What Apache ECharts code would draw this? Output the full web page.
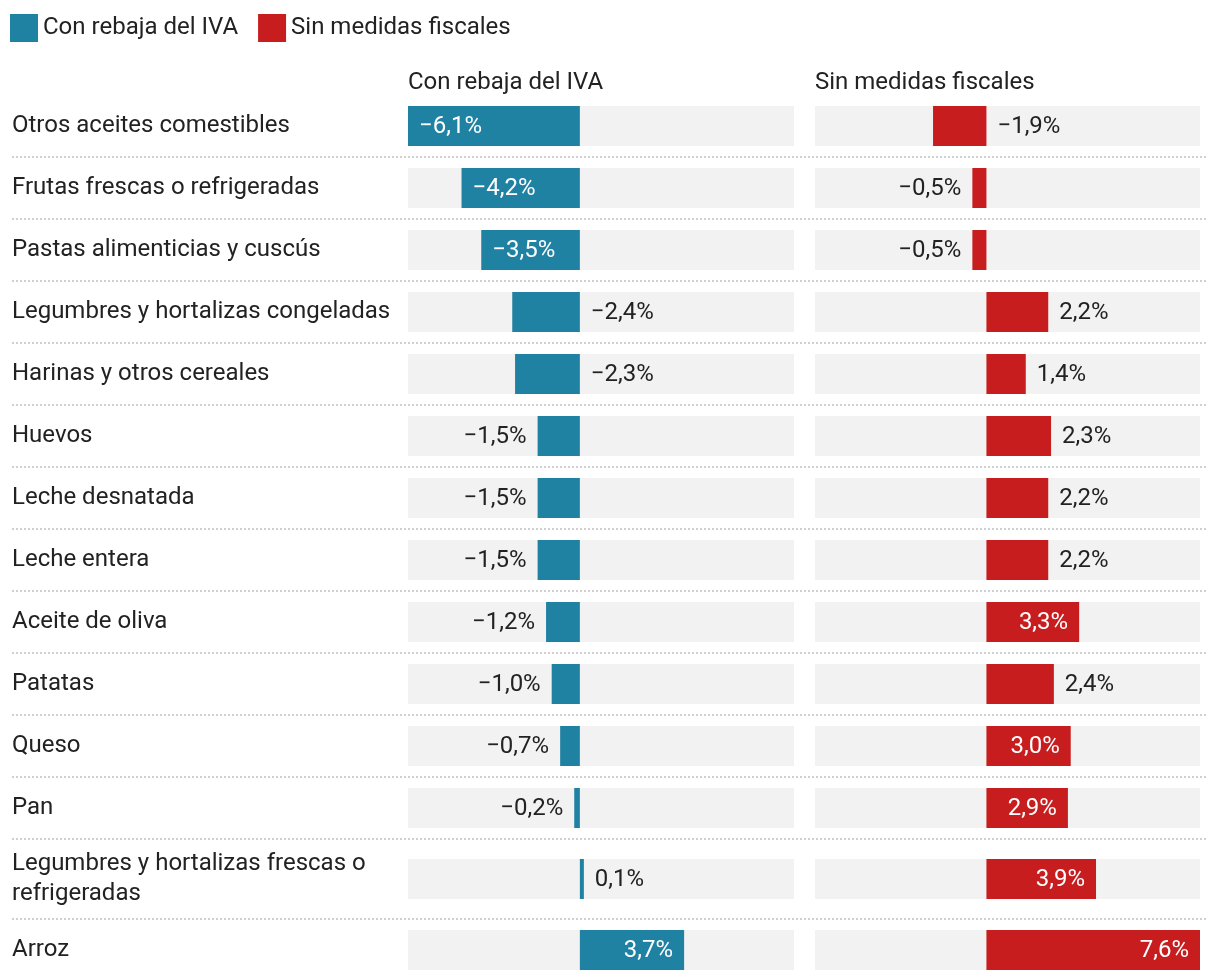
<!DOCTYPE html>
<html>
<head>
<meta charset="utf-8">
<script src="https://cdn.jsdelivr.net/npm/echarts@6/dist/echarts.min.js"></script>
<style>
html,body{margin:0;padding:0;background:#fff;}
#chart{width:1220px;height:980px;}
</style>
</head>
<body>
<div id="chart"></div>
<script>
const categories = [
  'Otros aceites comestibles',
  'Frutas frescas o refrigeradas',
  'Pastas alimenticias y cuscús',
  'Legumbres y hortalizas congeladas',
  'Harinas y otros cereales',
  'Huevos',
  'Leche desnatada',
  'Leche entera',
  'Aceite de oliva',
  'Patatas',
  'Queso',
  'Pan',
  'Legumbres y hortalizas frescas o refrigeradas',
  'Arroz'
];
const seriesNames = ['Con rebaja del IVA', 'Sin medidas fiscales'];
const conRebaja = [-6.1, -4.2, -3.5, -2.4, -2.3, -1.5, -1.5, -1.5, -1.2, -1.0, -0.7, -0.2, 0.1, 3.7];
const sinMedidas = [-1.9, -0.5, -0.5, 2.2, 1.4, 2.3, 2.2, 2.2, 3.3, 2.4, 3.0, 2.9, 3.9, 7.6];
const axisMin = -6.1;
const axisMax = 7.6;

const FONT = 'Roboto, "Noto Sans", sans-serif';
const FS = 24;
const TEXT = '#222222';
const COLORS = ['#1f82a3', '#c81d1e'];
const BG = '#f2f2f2';

const LABEL_LEFT = 12;
const LABEL_WIDTH = 390;
const PANELS = [{left: 408, width: 386}, {left: 815, width: 385}];
const FIRST_TOP = 95;
const BASE_ROW_H = 62;
const EXTRA_LINE_H = 18;
const BAR_H = 40;

// count wrapped lines of the category labels
const measureCtx = document.createElement('canvas').getContext('2d');
measureCtx.font = FS + 'px ' + FONT;
function lineCount(text) {
  const words = text.split(' ');
  let lines = 1, cur = '';
  for (const w of words) {
    const trial = cur ? cur + ' ' + w : w;
    if (measureCtx.measureText(trial).width > LABEL_WIDTH && cur) { lines++; cur = w; }
    else cur = trial;
  }
  return lines;
}

function fmt(v) {
  const s = Math.abs(v).toFixed(1).replace('.', ',') + '%';
  return v < 0 ? '\u2212' + s : s;
}

function labelFor(v) {
  const a = Math.abs(v);
  let position, color = TEXT;
  if (a >= 2.5) { position = v < 0 ? 'insideLeft' : 'insideRight'; color = '#ffffff'; }
  else if (v < 0 && a >= 1.8) position = 'right';
  else if (v < 0) position = 'left';
  else position = 'right';
  return {
    show: true, position, distance: 11, color, offset: [0, 1],
    fontFamily: FONT, fontSize: FS,
    formatter: () => fmt(v)
  };
}

const grids = [], xAxes = [], yAxes = [], seriesList = [], graphics = [];
let rowTop = FIRST_TOP;
categories.forEach((cat, i) => {
  const rowH = BASE_ROW_H + EXTRA_LINE_H * (lineCount(cat) - 1);
  const gridTop = rowTop + (rowH - BAR_H) / 2;
  [conRebaja, sinMedidas].forEach((vals, p) => {
    const idx = grids.length;
    grids.push({left: PANELS[p].left, width: PANELS[p].width, top: gridTop, height: BAR_H, containLabel: false});
    xAxes.push({type: 'value', gridIndex: idx, min: axisMin, max: axisMax, show: false});
    yAxes.push({
      type: 'category', gridIndex: idx, data: [cat],
      axisLine: {show: false}, axisTick: {show: false}, splitLine: {show: false},
      axisLabel: p === 0 ? {
        show: true, align: 'left', margin: PANELS[0].left - LABEL_LEFT,
        width: LABEL_WIDTH, overflow: 'break', lineHeight: 30,
        padding: [5, 0, 0, 0],
        fontFamily: FONT, fontSize: FS, color: TEXT
      } : {show: false}
    });
    seriesList.push({
      name: seriesNames[p], type: 'bar', xAxisIndex: idx, yAxisIndex: idx,
      data: [vals[i]], barWidth: BAR_H, barMinHeight: 4,
      showBackground: true, backgroundStyle: {color: BG},
      itemStyle: {color: COLORS[p]},
      label: labelFor(vals[i]),
      silent: true, animation: false
    });
  });
  rowTop += rowH;
  if (i < categories.length - 1) {
    graphics.push({
      type: 'line', silent: true,
      shape: {x1: LABEL_LEFT, y1: rowTop, x2: 1208, y2: rowTop},
      style: {stroke: '#cfcfcf', lineWidth: 2, lineDash: [2, 2]}
    });
  }
});

const chart = echarts.init(document.getElementById('chart'), null, {renderer: 'canvas'});
chart.setOption({
  animation: false,
  backgroundColor: '#ffffff',
  textStyle: {fontFamily: FONT},
  legend: {
    data: seriesNames, left: 10, top: 14, padding: 0,
    itemWidth: 28, itemHeight: 28, itemGap: 20, icon: 'rect',
    textStyle: {fontSize: FS, color: TEXT, fontFamily: FONT, padding: [2, 0, 0, 0]},
    selectedMode: false
  },
  title: [
    {text: seriesNames[0], left: PANELS[0].left, top: 71, padding: 0,
     textStyle: {fontSize: FS, fontWeight: 'normal', color: TEXT, fontFamily: FONT}},
    {text: seriesNames[1], left: PANELS[1].left, top: 71, padding: 0,
     textStyle: {fontSize: FS, fontWeight: 'normal', color: TEXT, fontFamily: FONT}}
  ],
  grid: grids, xAxis: xAxes, yAxis: yAxes, series: seriesList,
  graphic: graphics
});
</script>
</body>
</html>
